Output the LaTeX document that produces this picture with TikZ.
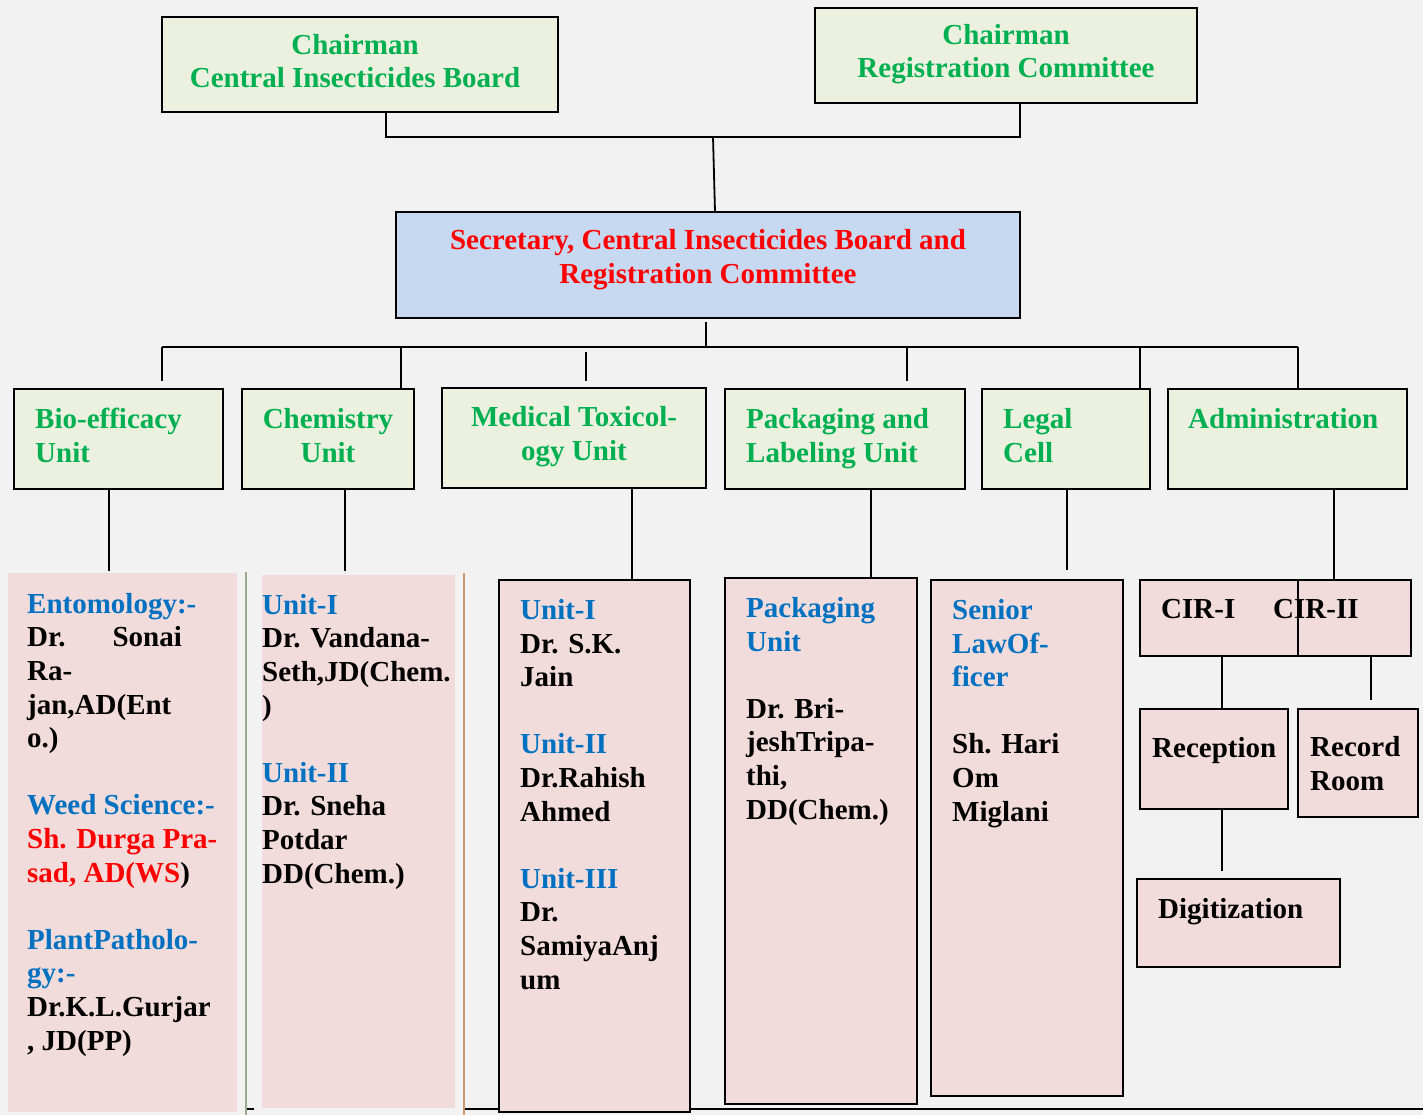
\documentclass[tikz,border=0pt]{standalone}
\usepackage{fontspec}
\setmainfont{Liberation Serif}
\usetikzlibrary{calc}
\definecolor{bg}{HTML}{F2F2F2}
\definecolor{gfill}{HTML}{EBF1DE}
\definecolor{pfill}{HTML}{F2DCDB}
\definecolor{bfill}{HTML}{C6D9F1}
\definecolor{tgreen}{HTML}{00B050}
\definecolor{tblue}{HTML}{0070C0}
\definecolor{tred}{HTML}{FF0000}
\definecolor{lgreen}{HTML}{9BAA8C}
\definecolor{ltan}{HTML}{C89A74}
\begin{document}
\begin{tikzpicture}[x=1pt,y=-1pt,
  box/.style={draw=black, line width=2pt, inner sep=0pt, outer sep=0pt, anchor=north west},
  gbox/.style={box, fill=gfill},
  pbox/.style={box, fill=pfill},
  pfbox/.style={fill=pfill, inner sep=0pt, outer sep=0pt, anchor=north west},
  bbox/.style={box, fill=bfill},
  txt/.style={font=\fontsize{29pt}{33.6pt}\selectfont\bfseries, inner sep=0pt, anchor=base west, align=left},
  ctxt/.style={txt, anchor=base, align=center},
  conn/.style={line width=1.8pt}
]
\useasboundingbox[fill=bg] (0,0) rectangle (1423,1115);

% bottom rule and side rules
\coordinate (bl1) at (464,1109);
\coordinate (bl2) at (1423,1109);
\draw[conn] (bl1) -- (bl2);
\coordinate (bs1) at (246,1109);
\coordinate (bs2) at (254,1109);
\draw[conn] (bs1) -- (bs2);

% boxes
\node[gbox, minimum width=396pt, minimum height=95pt] (cib) at (162,17) {};
\node[gbox, minimum width=382pt, minimum height=95pt] (rc) at (815,8) {};
\node[bbox, minimum width=624pt, minimum height=106pt] (sec) at (396,212) {};
\node[gbox, minimum width=209pt, minimum height=100pt] (bio) at (14,389) {};
\node[gbox, minimum width=172pt, minimum height=100pt] (chem) at (242,389) {};
\node[gbox, minimum width=264pt, minimum height=100pt] (medt) at (442,388) {};
\node[gbox, minimum width=240pt, minimum height=100pt] (pack) at (725,389) {};
\node[gbox, minimum width=168pt, minimum height=100pt] (legal) at (982,389) {};
\node[gbox, minimum width=239pt, minimum height=100pt] (admin) at (1168,389) {};

\node[pfbox, minimum width=229pt, minimum height=539pt] (biol) at (8,573) {};
\node[pfbox, minimum width=193pt, minimum height=533pt] (chemL) at (262,575) {};
\node[pbox, minimum width=191pt, minimum height=532pt] (medtl) at (499,580) {};
\node[pbox, minimum width=192pt, minimum height=526pt] (packl) at (725,578) {};
\node[pbox, minimum width=192pt, minimum height=516pt] (legall) at (931,580) {};
\node[pbox, minimum width=271pt, minimum height=76pt] (cir) at (1140,580) {};
\node[pbox, minimum width=148pt, minimum height=100pt] (recep) at (1140,709) {};
\node[pbox, minimum width=120pt, minimum height=108pt] (record) at (1298,709) {};
\node[pbox, minimum width=203pt, minimum height=88pt] (digit) at (1137,879) {};

% coloured side rules
\coordinate (g1) at (246,572);
\coordinate (g2) at (246,1115);
\draw[lgreen, line width=2pt] (g1) -- (g2);
\coordinate (t1) at (464,573);
\coordinate (t2) at (464,1115);
\draw[ltan, line width=2pt] (t1) -- (t2);

% top connectors
\coordinate (jtop) at (713,137);
\draw[conn] ([xshift=26pt]cib.south) |- (jtop) -| ([xshift=14pt]rc.south);
\draw[conn] (jtop) -- ([xshift=7pt]sec.north);

% level-2 bus
\coordinate (jmid) at (706,347);
\draw[conn] ([yshift=-4pt]sec.south -| jmid) -- (jmid);
\coordinate (hl) at (162,347);
\coordinate (hr) at (1298,347);
\draw[conn] (hl) -- (hr);
\draw[conn] (hl) -- ([yshift=8pt]hl |- bio.north);
\coordinate (d2) at (401,347);
\draw[conn] (d2) -- (d2 |- chem.north);
\coordinate (d3) at (586,352);
\draw[conn] (d3) -- ([yshift=7pt]d3 |- medt.north);
\coordinate (d4) at (907,347);
\draw[conn] (d4) -- ([yshift=8pt]d4 |- pack.north);
\coordinate (d5) at (1140,347);
\draw[conn] (d5) -- (d5 |- legal.north);
\draw[conn] (hr) -- (hr |- admin.north);

% level-3 connectors
\coordinate (e1) at (109,0);
\draw[conn] (bio.south -| e1) -- ([yshift=2pt]biol.north -| e1);
\coordinate (e2) at (345,0);
\draw[conn] (chem.south -| e2) -- ([yshift=4pt]chemL.north -| e2);
\coordinate (e3) at (632,0);
\draw[conn] (medt.south -| e3) -- (medtl.north -| e3);
\coordinate (e4) at (871,0);
\draw[conn] (pack.south -| e4) -- (packl.north -| e4);
\coordinate (e5) at (1067,0);
\draw[conn] (legal.south -| e5) -- ([yshift=10pt]legall.north -| e5);
\coordinate (e6) at (1334,0);
\draw[conn] (admin.south -| e6) -- (cir.north -| e6);
\coordinate (e7) at (1298,0);
\draw[conn] (cir.north -| e7) -- (cir.south -| e7);
\coordinate (e8) at (1222,0);
\draw[conn] (cir.south -| e8) -- (recep.north -| e8);
\coordinate (e9) at (1371,0);
\draw[conn] (cir.south -| e9) -- ([yshift=9pt]record.north -| e9);
\draw[conn] (recep.south -| e8) -- ([yshift=8pt]digit.north -| e8);

% texts (anchor base = baseline of the last line)
\node[ctxt, text=tgreen] (cibt) at (355,88) {Chairman\\Central Insecticides Board};
\node[ctxt, text=tgreen] (rct) at (1006,78) {Chairman\\Registration Committee};
\node[ctxt, text=tred] (sect) at (708,283) {Secretary, Central Insecticides Board and\\Registration Committee};
\node[txt, text=tgreen] (biot) at (35,462) {Bio-efficacy\\Unit};
\node[ctxt, text=tgreen] (chemt) at (328,462) {Chemistry\\Unit};
\node[ctxt, text=tgreen] (medtt) at (574,460) {Medical Toxicol-\\ogy Unit};
\node[txt, text=tgreen] (packt) at (746,462) {Packaging and\\Labeling Unit};
\node[txt, text=tgreen] (legalt) at (1003,462) {Legal\\Cell};
\node[txt, text=tgreen] (admint) at (1188,428) {Administration};

\node[txt] (biolt) at (27,1050) {\textcolor{tblue}{Entomology:-}\\Dr.\hspace{47pt}Sonai\\Ra-\\jan,AD(Ent\\o.)\\[33.6pt]\textcolor{tblue}{Weed Science:-}\\\textcolor{tred}{Sh. Durga Pra-}\\\textcolor{tred}{sad, AD(WS})\\[33.6pt]\textcolor{tblue}{PlantPatholo-}\\\textcolor{tblue}{gy:-}\\Dr.K.L.Gurjar\\, JD(PP)};
\node[txt] (chemlt) at (262,883) {\textcolor{tblue}{Unit-I}\\Dr. Vandana-\\Seth,JD(Chem.\\)\\[33.6pt]\textcolor{tblue}{Unit-II}\\Dr. Sneha\\Potdar\\DD(Chem.)};
\node[txt] (medtlt) at (520,989) {\textcolor{tblue}{Unit-I}\\Dr. S.K.\\Jain\\[33.6pt]\textcolor{tblue}{Unit-II}\\Dr.Rahish\\Ahmed\\[33.6pt]\textcolor{tblue}{Unit-III}\\Dr.\\SamiyaAnj\\um};
\node[txt] (packlt) at (746,819) {\textcolor{tblue}{Packaging}\\\textcolor{tblue}{Unit}\\[33.6pt]Dr. Bri-\\jeshTripa-\\thi,\\DD(Chem.)};
\node[txt] (legallt) at (952,821) {\textcolor{tblue}{Senior}\\\textcolor{tblue}{LawOf-}\\\textcolor{tblue}{ficer}\\[33.6pt]Sh. Hari\\Om\\Miglani};
\node[txt] (cir1) at (1161,618) {CIR-I};
\node[txt] (cir2) at (1273,618) {CIR-II};
\node[txt] (recept) at (1152,757) {Reception};
\node[txt] (recordt) at (1310,790) {Record\\Room};
\node[txt] (digitt) at (1158,918) {Digitization};
\end{tikzpicture}
\end{document}
